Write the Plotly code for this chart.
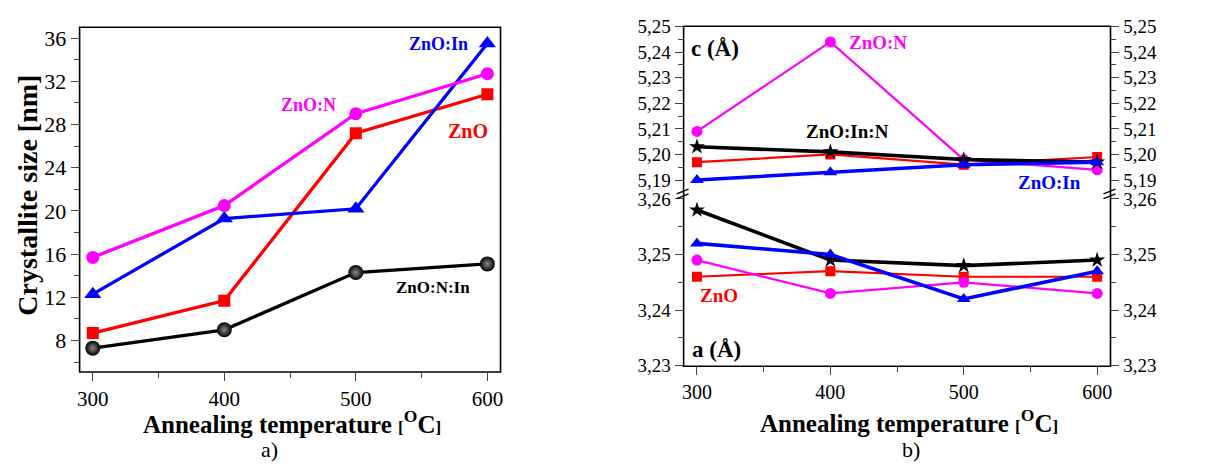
import plotly.graph_objects as go

# Annealing temperatures (°C)
temps = [300, 400, 500, 600]

# Panel a) crystallite size [nm]
size_zno = [8.7, 11.7, 27.2, 30.8]
size_zno_n = [15.7, 20.5, 29.0, 32.7]
size_zno_in = [12.3, 19.3, 20.2, 35.5]
size_zno_n_in = [7.3, 9.0, 14.3, 15.1]

# Panel b) lattice parameter c (Å)
c_zno = [5.197, 5.200, 5.196, 5.199]
c_zno_n = [5.209, 5.244, 5.198, 5.194]
c_zno_in = [5.190, 5.193, 5.196, 5.197]
c_zno_in_n = [5.203, 5.201, 5.198, 5.197]

# Panel b) lattice parameter a (Å)
a_zno = [3.246, 3.247, 3.246, 3.246]
a_zno_n = [3.249, 3.243, 3.245, 3.243]
a_zno_in = [3.252, 3.250, 3.242, 3.247]
a_zno_in_n = [3.258, 3.249, 3.248, 3.249]

RED, BLUE, MAG, BLK = "#FF0000", "#0000FF", "#FF00FF", "#000000"
FONT = "Times New Roman, Liberation Serif, DejaVu Serif, serif"

W, H = 1214, 471
def px(x):
    return x / W
def py(y):
    return 1 - y / H

fig = go.Figure()

# ---- panel a) ----
def add_a(y, color, symbol, size, grad=None):
    marker = dict(color=color, symbol=symbol, size=size, line=dict(width=0))
    if grad:
        marker["gradient"] = dict(type="radial", color=grad)
    fig.add_trace(go.Scatter(x=temps, y=y, mode="lines+markers", xaxis="x", yaxis="y",
                             line=dict(color=color, width=3.3), marker=marker,
                             showlegend=False, hoverinfo="x+y"))

add_a(size_zno_n_in, BLK, "circle", 15, grad="#8a8a8a")
add_a(size_zno, RED, "square", 12)
add_a(size_zno_in, BLUE, "triangle-up", 15)
add_a(size_zno_n, MAG, "circle", 13)

# ---- panel b) ----
def add_b(y, color, symbol, size, width, ax_y, ax_x):
    fig.add_trace(go.Scatter(x=temps, y=y, mode="lines+markers", xaxis=ax_x, yaxis=ax_y,
                             line=dict(color=color, width=width),
                             marker=dict(color=color, symbol=symbol, size=size, line=dict(width=0)),
                             showlegend=False, hoverinfo="x+y"))

for yv, col, sym, sz, wd in [
    (c_zno_n, MAG, "circle", 11, 2.2),
    (c_zno, RED, "square", 10, 2.2),
    (c_zno_in_n, BLK, "star", 12, 3.6),
    (c_zno_in, BLUE, "triangle-up", 12, 3.6),
]:
    add_b(yv, col, sym, sz, wd, "y3", "x3")

for yv, col, sym, sz, wd in [
    (a_zno, RED, "square", 10, 2.2),
    (a_zno_n, MAG, "circle", 11, 2.2),
    (a_zno_in_n, BLK, "star", 12, 3.6),
    (a_zno_in, BLUE, "triangle-up", 12, 3.6),
]:
    add_b(yv, col, sym, sz, wd, "y2", "x2")

# invisible carriers so the right-hand mirrored axes are drawn
fig.add_trace(go.Scatter(x=temps, y=c_zno, xaxis="x3", yaxis="y4", mode="lines",
                         line=dict(width=0), opacity=0, showlegend=False, hoverinfo="skip"))
fig.add_trace(go.Scatter(x=temps, y=a_zno, xaxis="x2", yaxis="y5", mode="lines",
                         line=dict(width=0), opacity=0, showlegend=False, hoverinfo="skip"))

def tf(size):
    return dict(family=FONT, size=size, color="black")

def xcommon(size):
    return dict(range=[290, 610], tickvals=temps, ticks="outside", ticklen=8, tickwidth=1.2,
                minor=dict(dtick=50, tick0=0, ticks="outside", ticklen=5, tickwidth=1.2),
                showgrid=False, zeroline=False, showline=False, tickfont=tf(size))

def ycommon(size):
    return dict(ticks="outside", ticklen=8, tickwidth=1.2, showgrid=False, zeroline=False,
                showline=False, tickfont=tf(size))

Lx0, Lx1, Ly0, Ly1 = 77, 500, 18, 378
Rx0, Rx1, Ry0, Ry1 = 684, 1113, 17, 372
Rbreak_u, Rbreak_l = 188, 190

UPPER = [5.1861, 5.2501]
LOWER = [3.2299, 3.26126]
upper_ax = dict(range=UPPER, tick0=5.19, dtick=0.01, tickformat=".2f",
                minor=dict(dtick=0.005, tick0=5.19, ticks="outside", ticklen=5, tickwidth=1.2), **ycommon(19))
lower_ax = dict(range=LOWER, tick0=3.23, dtick=0.01, tickformat=".2f",
                minor=dict(dtick=0.005, tick0=3.23, ticks="outside", ticklen=5, tickwidth=1.2), **ycommon(19))

fig.update_layout(
    width=W, height=H, margin=dict(l=0, r=0, t=0, b=0),
    paper_bgcolor="white", plot_bgcolor="white",
    separators=", ",
    font=dict(family=FONT, color="black"),
    xaxis=dict(domain=[px(Lx0), px(Lx1)], anchor="y", **xcommon(21)),
    yaxis=dict(domain=[py(Ly1), py(Ly0)], anchor="x", range=[5.1, 37], tick0=0, dtick=4,
               minor=dict(dtick=2, tick0=0, ticks="outside", ticklen=5, tickwidth=1.2), **ycommon(22)),
    xaxis2=dict(domain=[px(Rx0), px(Rx1)], anchor="y2", **xcommon(20)),
    yaxis2=dict(domain=[py(Ry1), py(Rbreak_l)], anchor="x2", **lower_ax),
    xaxis3=dict(domain=[px(Rx0), px(Rx1)], anchor="y3", matches="x2", range=[290, 610],
                showticklabels=False, ticks="", showgrid=False, zeroline=False, showline=False),
    yaxis3=dict(domain=[py(Rbreak_u), py(Ry0)], anchor="x3", **upper_ax),
    yaxis4=dict(overlaying="y3", anchor="x3", side="right", **upper_ax),
    yaxis5=dict(overlaying="y2", anchor="x2", side="right", **lower_ax),
)

# frames
line = dict(color="black", width=1.6)
fig.add_shape(type="rect", xref="paper", yref="paper", x0=px(Lx0), x1=px(Lx1),
              y0=py(Ly1), y1=py(Ly0), line=line, layer="above")
fig.add_shape(type="rect", xref="paper", yref="paper", x0=px(Rx0), x1=px(Rx1),
              y0=py(Ry1), y1=py(Ry0), line=line, layer="above")

# axis break marks (two slanted strokes across each vertical axis)
for xb in (Rx0, Rx1):
    for dy in (-2.5, 2.5):
        fig.add_shape(type="line", xref="paper", yref="paper",
                      x0=px(xb - 7), x1=px(xb + 5), y0=py(192 + dy + 2.5), y1=py(192 + dy - 2.5),
                      line=dict(color="black", width=1.4), layer="above")

def label(text, x, y, color, size=17, bold=True, xanchor="center", angle=0):
    fig.add_annotation(text=f"<b>{text}</b>" if bold else text, x=px(x), y=py(y),
                       xref="paper", yref="paper", showarrow=False, xanchor=xanchor,
                       yanchor="middle", textangle=angle,
                       font=dict(family=FONT, size=size, color=color))

XTITLE = "Annealing temperature <span style='font-size:17px'>[</span><sup>O</sup>C<span style='font-size:17px'>]</span>"

# panel a) labels
label("ZnO:In", 438, 35, BLUE, size=18)
label("ZnO:N", 307, 99, MAG, size=18)
label("ZnO", 467, 126, RED, size=20)
label("ZnO:N:In", 432, 290, BLK, size=17)
label("Crystallite size [nm]", 25, 193, BLK, size=28, angle=-90)
label(XTITLE, 290, 430, BLK, size=25)
label("a)", 268, 459, BLK, size=22, bold=False)

# panel b) labels
label("c (Å)", 716, 40, BLK, size=23)
label("ZnO:N", 879, 34, MAG, size=19)
label("ZnO:In:N", 849, 127, BLK, size=19)
label("ZnO:In", 1052, 180, BLUE, size=19)
label("ZnO", 720, 298, RED, size=19)
label("a (Å)", 717, 355, BLK, size=23)
label(XTITLE, 910, 429, BLK, size=25)
label("b)", 913, 459, BLK, size=22, bold=False)

fig.write_html("out.html")
